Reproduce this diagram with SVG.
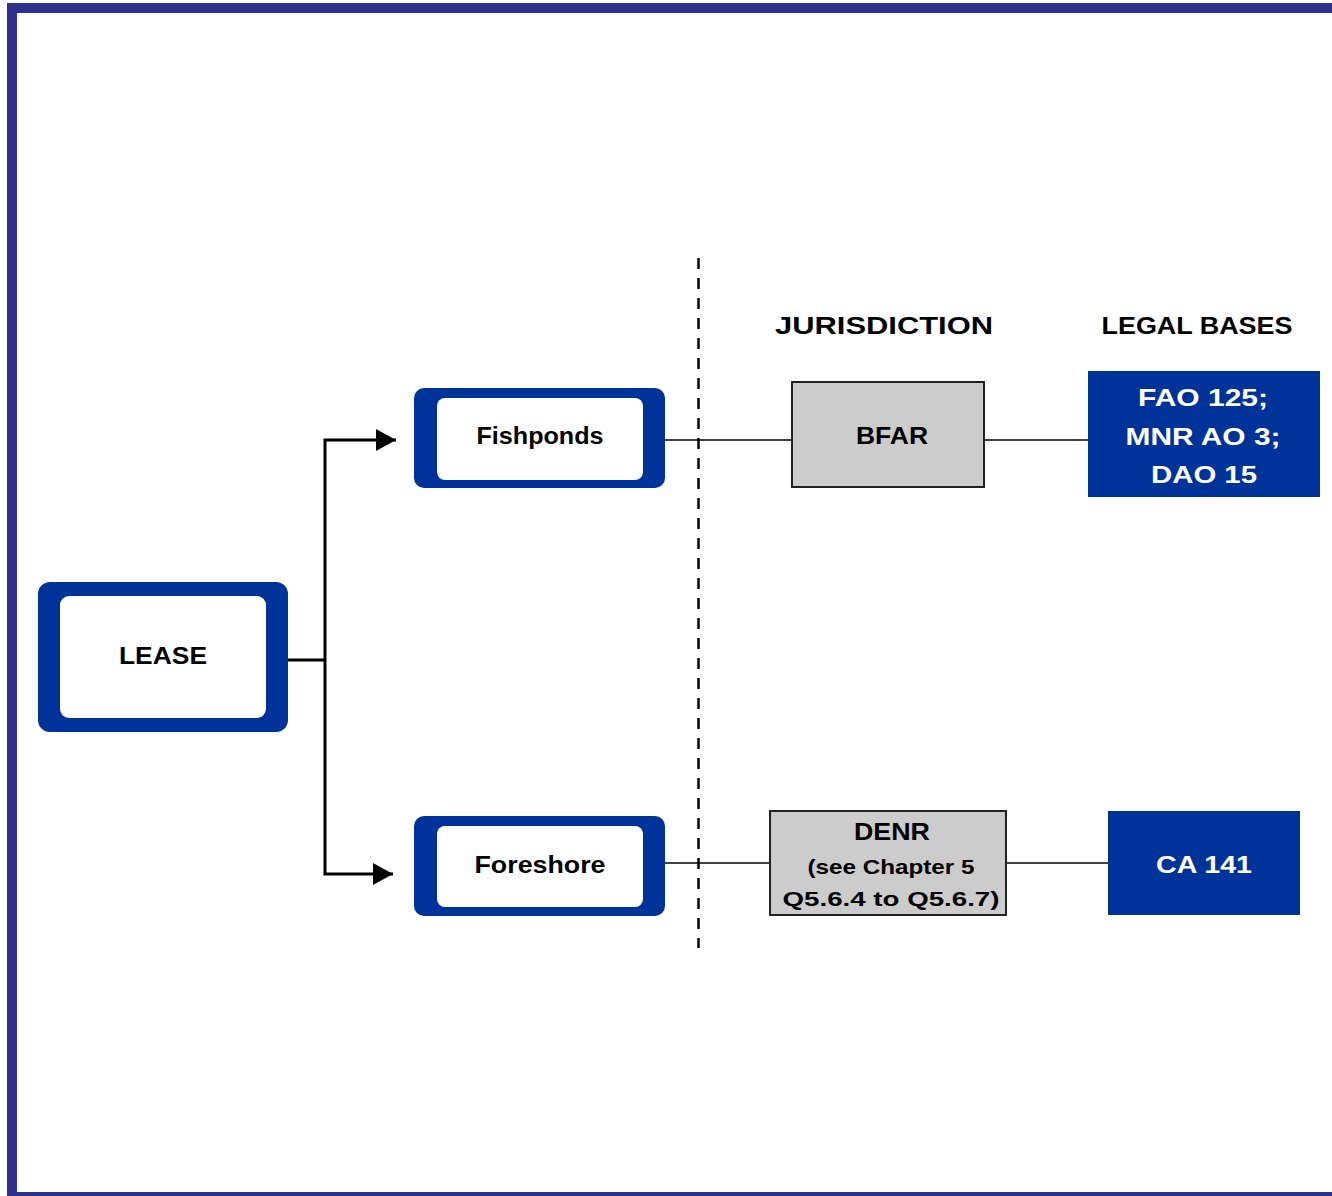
<svg xmlns="http://www.w3.org/2000/svg" width="1332" height="1196" viewBox="0 0 1332 1196">
<defs>
<style>
.t{font-family:"Liberation Sans","DejaVu Sans",sans-serif;font-weight:bold;font-size:24px;fill:#000;text-anchor:middle}
.w{fill:#fff}
.outer{fill:#003399}
.inner{fill:#fff}
.grey{fill:#cccccc;stroke:#222;stroke-width:2}
.blue{fill:#003399}
.thin{stroke:#000;stroke-width:1.6;fill:none}
.thick{stroke:#000;stroke-width:3;fill:none}
</style>
<marker id="ah" markerWidth="22" markerHeight="22" refX="20" refY="11" orient="auto" markerUnits="userSpaceOnUse">
<path d="M0,0 L20,11 L0,22 Z" fill="#000"/>
</marker>
</defs>
<rect x="0" y="0" width="1332" height="1196" fill="#fff"/>
<g id="frame" fill="#2E3192">
<rect x="7" y="3" width="1325" height="10"/>
<rect x="7" y="3" width="10" height="1193"/>
<rect x="7" y="1192" width="1325" height="4"/>
</g>
<g id="connectors">
<polyline class="thick" points="287,660 325,660"/>
<polyline class="thick" points="325,660 325,440 396,440" marker-end="url(#ah)"/>
<polyline class="thick" points="325,660 325,874 393,874" marker-end="url(#ah)"/>
<line class="thin" x1="664" y1="440" x2="792" y2="440"/>
<line class="thin" x1="984" y1="440" x2="1088" y2="440"/>
<line class="thin" x1="664" y1="863" x2="770" y2="863"/>
<line class="thin" x1="1006" y1="863" x2="1108" y2="863"/>
<line x1="698.5" y1="258" x2="698.5" y2="948" stroke="#000" stroke-width="2.5" stroke-dasharray="11,9"/>
</g>
<g id="lease">
<rect class="outer" x="38" y="582" width="250" height="150" rx="12"/>
<rect class="inner" x="60" y="596" width="206" height="122" rx="9"/>
<text class="t" x="163" y="664" textLength="88" lengthAdjust="spacingAndGlyphs">LEASE</text>
</g>
<g id="fishponds">
<rect class="outer" x="414" y="388" width="251" height="100" rx="10"/>
<rect class="inner" x="437" y="398" width="206" height="82" rx="8"/>
<text class="t" x="540" y="444" textLength="127" lengthAdjust="spacingAndGlyphs">Fishponds</text>
</g>
<g id="foreshore">
<rect class="outer" x="414" y="816" width="251" height="100" rx="10"/>
<rect class="inner" x="437" y="826" width="206" height="81" rx="8"/>
<text class="t" x="540" y="873" textLength="131" lengthAdjust="spacingAndGlyphs">Foreshore</text>
</g>
<g id="hdr-jurisdiction">
<text class="t" x="884" y="334" textLength="218" lengthAdjust="spacingAndGlyphs">JURISDICTION</text>
</g>
<g id="hdr-legal">
<text class="t" x="1197" y="334" textLength="191" lengthAdjust="spacingAndGlyphs">LEGAL BASES</text>
</g>
<g id="bfar">
<rect class="grey" x="792" y="382" width="192" height="105"/>
<text class="t" x="892" y="444" textLength="72" lengthAdjust="spacingAndGlyphs">BFAR</text>
</g>
<g id="fao">
<rect class="blue" x="1088" y="371" width="232" height="126"/>
<text class="t w" x="1203" y="406" textLength="130" lengthAdjust="spacingAndGlyphs">FAO 125;</text>
<text class="t w" x="1203" y="445" textLength="155" lengthAdjust="spacingAndGlyphs">MNR AO 3;</text>
<text class="t w" x="1204" y="483" textLength="106" lengthAdjust="spacingAndGlyphs">DAO 15</text>
</g>
<g id="denr">
<rect class="grey" x="770" y="811" width="236" height="104"/>
<text class="t" x="892" y="840" textLength="76" lengthAdjust="spacingAndGlyphs">DENR</text>
<text class="t" x="891" y="874" font-size="21" style="font-size:21px" textLength="167" lengthAdjust="spacingAndGlyphs">(see Chapter 5</text>
<text class="t" x="891" y="906" font-size="21" style="font-size:21px" textLength="217" lengthAdjust="spacingAndGlyphs">Q5.6.4 to Q5.6.7)</text>
</g>
<g id="ca141">
<rect class="blue" x="1108" y="811" width="192" height="104"/>
<text class="t w" x="1204" y="873" textLength="96" lengthAdjust="spacingAndGlyphs">CA 141</text>
</g>
</svg>
